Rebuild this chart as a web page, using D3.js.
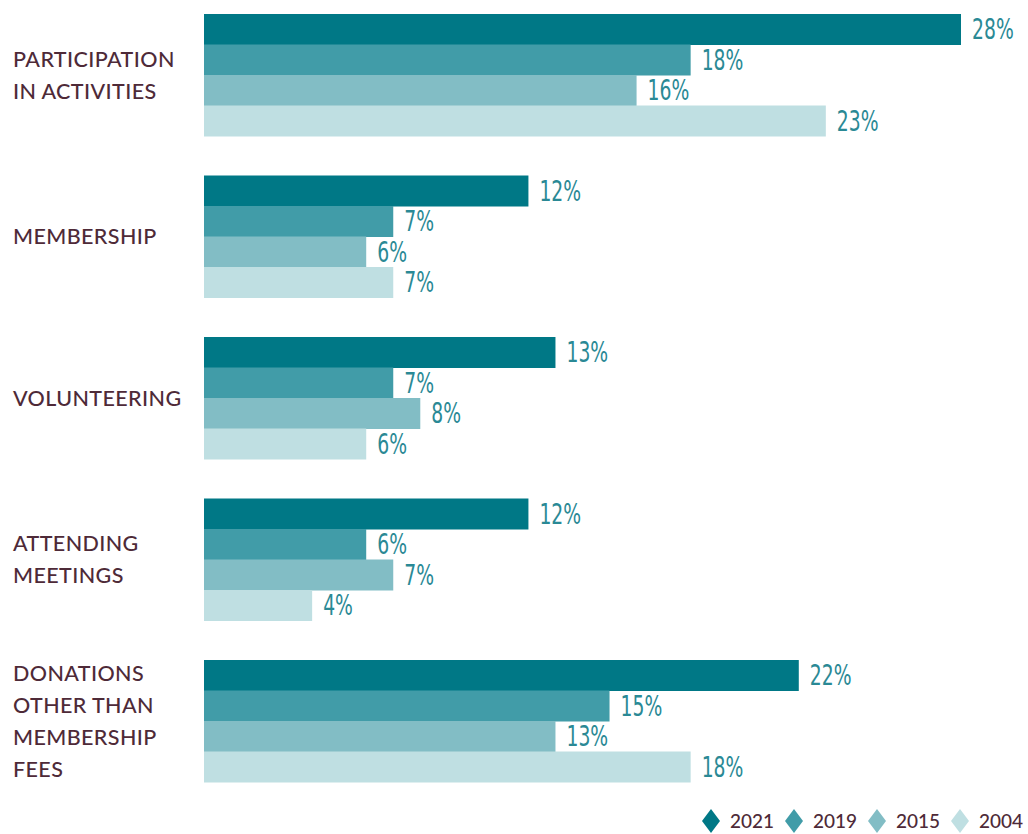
<!DOCTYPE html>
<html>
<head>
<meta charset="utf-8">
<script src="https://cdn.jsdelivr.net/npm/d3@7"></script>
<style>
  html, body { margin: 0; padding: 0; background: #ffffff; }
  svg { display: block; }
</style>
</head>
<body>
<svg id="chart" width="1028" height="834"></svg>
<script>
// Categories (each may wrap onto several lines)
const categories = [
  ["PARTICIPATION", "IN ACTIVITIES"],
  ["MEMBERSHIP"],
  ["VOLUNTEERING"],
  ["ATTENDING", "MEETINGS"],
  ["DONATIONS", "OTHER THAN", "MEMBERSHIP", "FEES"]
];
const years = ["2021", "2019", "2015", "2004"];
// Percent values per year, in category order
const values2021 = [28, 12, 13, 12, 22];
const values2019 = [18, 7, 7, 6, 15];
const values2015 = [16, 6, 8, 7, 13];
const values2004 = [23, 7, 6, 4, 18];
const seriesValues = [values2021, values2019, values2015, values2004];
const colors = ["#007886", "#419ca8", "#82bdc5", "#bfdfe2"];

const svg = d3.select("#chart");
const labelColor = "#4e2a38";
const valueColor = "#2a8995";

const x = d3.scaleLinear().domain([0, 28]).range([204, 961]);

const y0 = d3.scaleBand()
  .domain(d3.range(categories.length))
  .range([14, 782])
  .paddingInner(0.2446)
  .paddingOuter(0);

const y1 = d3.scaleBand()
  .domain(years)
  .range([0, y0.bandwidth()]);

const groups = svg.selectAll("g.group")
  .data(categories.map((c, i) => ({ lines: c, i })))
  .join("g")
  .attr("class", "group")
  .attr("transform", d => `translate(0,${y0(d.i)})`);

// Bars
groups.selectAll("rect")
  .data(d => years.map((yr, k) => ({ yr, k, v: seriesValues[k][d.i] })))
  .join("rect")
  .attr("x", x(0))
  .attr("y", d => y1(d.yr))
  .attr("width", d => x(d.v) - x(0))
  .attr("height", y1.bandwidth() + 0.5)
  .attr("fill", d => colors[d.k]);

// Value labels
groups.selectAll("text.value")
  .data(d => years.map((yr, k) => ({ yr, k, v: seriesValues[k][d.i] })))
  .join("text")
  .attr("class", "value")
  .attr("transform", d => `translate(${x(d.v) + 11},${y1(d.yr) + y1.bandwidth() / 2 + 10}) scale(0.72,1)`)
  .attr("font-family", "'Liberation Sans Narrow', 'DejaVu Sans Condensed', sans-serif")
  .attr("font-size", 29)
  .attr("fill", valueColor)
  .text(d => d.v + "%");

// Category labels
const lineH = 32;
groups.append("text")
  .attr("font-family", "Lato, 'Open Sans', sans-serif")
  .attr("font-size", 21.5)
  .attr("font-weight", 500)
  .attr("fill", labelColor)
  .attr("letter-spacing", 0.4)
  .each(function(d) {
    const n = d.lines.length;
    const cy = y0.bandwidth() / 2;
    d3.select(this).selectAll("tspan")
      .data(d.lines)
      .join("tspan")
      .attr("x", 13)
      .attr("y", (l, j) => cy + (j - (n - 1) / 2) * lineH + 8)
      .text(l => l);
  });

// Legend
const legendX = [711, 794, 877, 960];
const legend = svg.append("g").attr("class", "legend");
years.forEach((yr, k) => {
  const cx = legendX[k];
  const cy = 821;
  legend.append("path")
    .attr("d", `M${cx},${cy - 12} L${cx + 9},${cy} L${cx},${cy + 12} L${cx - 9},${cy} Z`)
    .attr("fill", colors[k]);
  legend.append("text")
    .attr("x", cx + 19)
    .attr("y", cy + 7)
    .attr("font-family", "Lato, 'Open Sans', sans-serif")
    .attr("font-size", 19)
    .attr("font-weight", 500)
    .attr("fill", labelColor)
    .text(yr);
});
</script>
</body>
</html>
